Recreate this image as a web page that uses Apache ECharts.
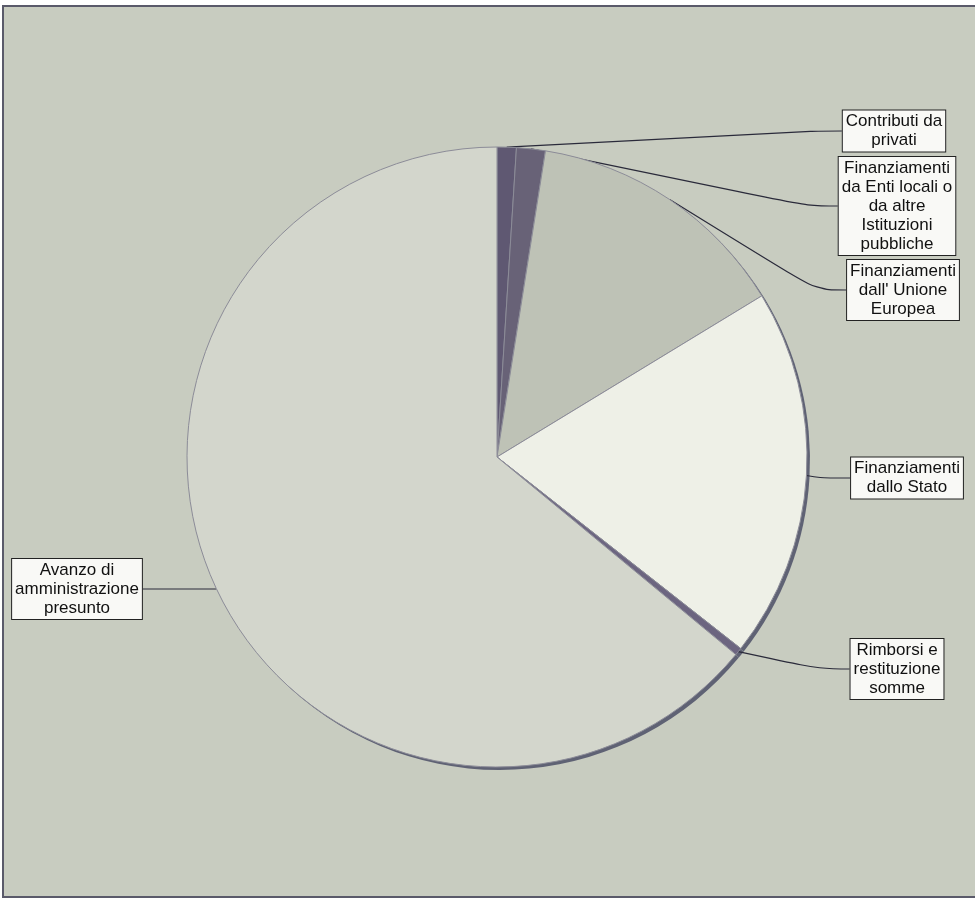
<!DOCTYPE html>
<html>
<head>
<meta charset="utf-8">
<script src="https://cdn.jsdelivr.net/npm/echarts@6/dist/echarts.min.js"></script>
<style>
html,body{margin:0;padding:0;background:#fff;}
#chart{width:975px;height:900px;}
</style>
</head>
<body>
<div id="chart"></div>
<script>
// ---- data (percent of total) ----
const categories = [
  "Contributi da\nprivati",
  "Finanziamenti\nda Enti locali o\nda altre\nIstituzioni\npubbliche",
  "Finanziamenti\ndall' Unione\nEuropea",
  "Finanziamenti\ndallo Stato",
  "Rimborsi e\nrestituzione\nsomme",
  "Avanzo di\namministrazione\npresunto"
];
const values = [1.0, 1.5, 13.8, 19.3, 0.4, 64.0];

// ---- styling ----
const sliceColors = ["#5f5872", "#686277", "#bec2b6", "#eef0e7", "#6c6580", "#d3d6cc"];
// label box anchor positions (pixels): [x, y, align]
const labelPos = [
  [894, 131, "center"],
  [897, 206, "center"],
  [903, 290, "center"],
  [907, 478, "center"],
  [897, 669, "center"],
  [77, 589, "center"]
];

const chart = echarts.init(document.getElementById('chart'), null, {renderer: 'canvas'});
const data = categories.map((c, i) => ({
  name: c,
  value: values[i],
  itemStyle: {color: sliceColors[i]}
}));

chart.setOption({
  backgroundColor: '#ffffff',
  animation: false,
  graphic: [{
    type: 'rect',
    z: -10,
    shape: {x: 3, y: 6, width: 975, height: 891},
    style: {fill: '#c8ccc0', stroke: '#5a5a6a', lineWidth: 2}
  }],
  series: [
    {
      type: 'pie',
      silent: true,
      z: 1,
      center: [500, 460],
      radius: 310,
      startAngle: 90,
      clockwise: true,
      label: {show: false},
      labelLine: {show: false},
      itemStyle: {color: '#5f6274', borderWidth: 0},
      data: values.map((v, i) => ({name: categories[i], value: v}))
    },
    {
      type: 'pie',
      z: 2,
      center: [497, 457],
      radius: 310,
      startAngle: 90,
      clockwise: true,
      avoidLabelOverlap: false,
      itemStyle: {borderColor: '#8c8c98', borderWidth: 1},
      label: {
        show: true,
        position: 'outside',
        formatter: '{b}',
        color: '#111',
        fontFamily: 'Liberation Sans, Arial, sans-serif',
        fontSize: 17,
        lineHeight: 19,
        align: 'center',
        backgroundColor: '#f9f9f6',
        borderColor: '#222',
        borderWidth: 1,
        padding: [2, 3, 1, 3]
      },
      labelLine: {
        show: true,
        length: 20,
        length2: 30,
        smooth: 0.4,
        lineStyle: {color: '#2a2a3a', width: 1.2}
      },
      labelLayout: function (p) {
        const lp = labelPos[p.dataIndex];
        return {x: lp[0], y: lp[1], align: lp[2], verticalAlign: 'middle'};
      },
      data: data
    }
  ]
});
</script>
</body>
</html>
